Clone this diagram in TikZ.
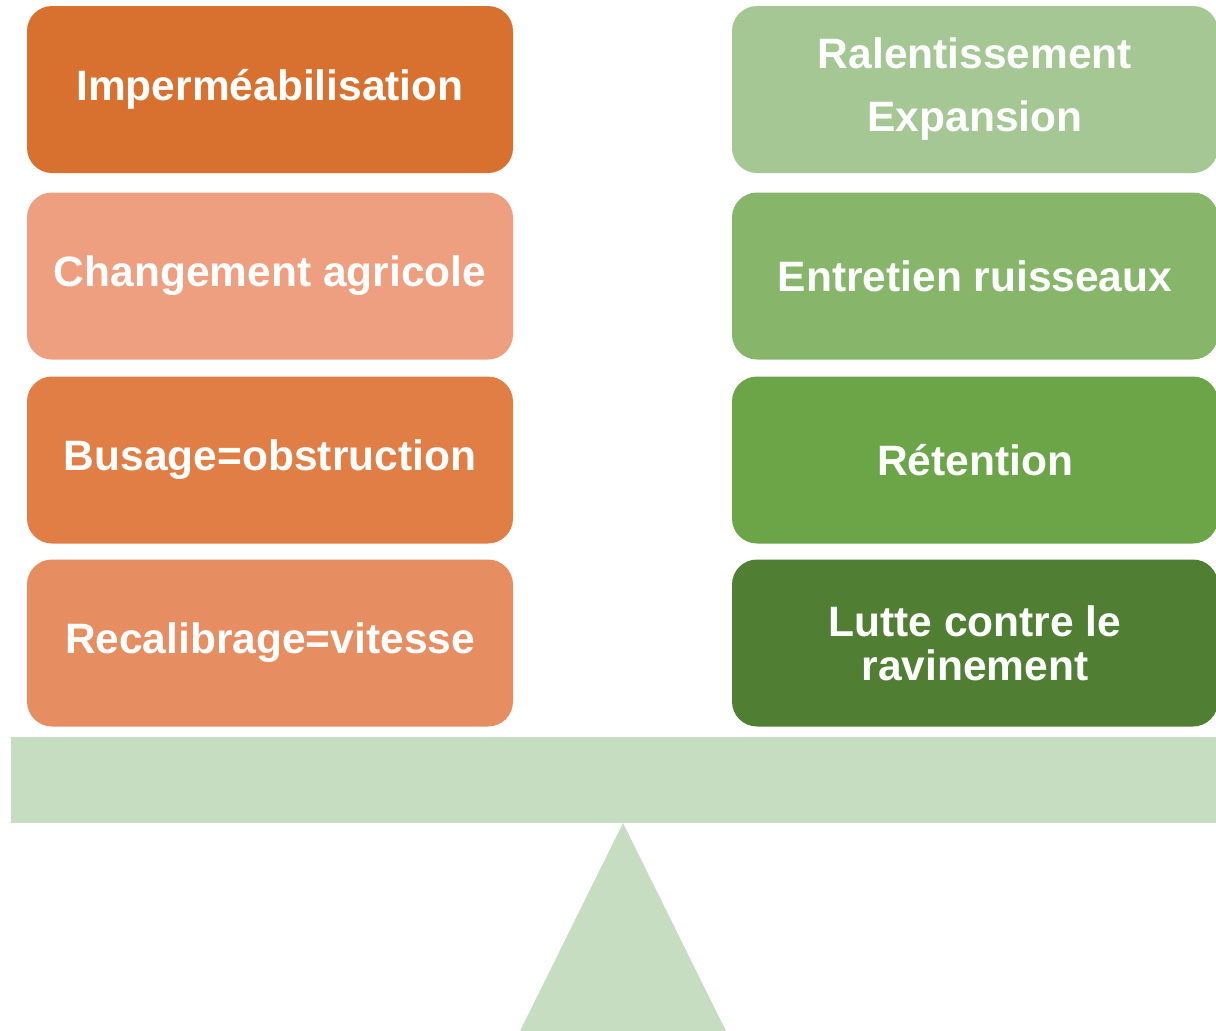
\documentclass[tikz,border=0pt]{standalone}
\usepackage{fontspec}
\setmainfont{Liberation Sans}
\usepackage{xcolor}
\definecolor{orangeA}{HTML}{D87130}
\definecolor{orangeB}{HTML}{EE9F7F}
\definecolor{orangeC}{HTML}{E07E46}
\definecolor{orangeD}{HTML}{E78D62}
\definecolor{greenA}{HTML}{A5C794}
\definecolor{greenB}{HTML}{87B66B}
\definecolor{greenC}{HTML}{6CA448}
\definecolor{greenD}{HTML}{507F34}
\definecolor{balance}{HTML}{C7DDC1}
\tikzset{
    box/.style={rounded corners=25pt, minimum width=486pt, minimum height=167pt,
        inner sep=0pt, text=white, align=center,
        font=\bfseries\fontsize{42.5}{44}\selectfont},
}

\begin{document}
\begin{tikzpicture}[x=1pt, y=-1pt]
        \useasboundingbox (0,0) rectangle (1216,1031);
        % balance
        \fill [balance] (11,737) rectangle (1216,823);
        \fill [balance] (623,823) -- (726,1031) -- (520,1031) -- cycle;

        % causes
        \node[box, fill=orangeA] (imper) at (270,89.5) {Imperméabilisation};
        \node[box, fill=orangeB] (agri) at (270,276) {Changement agricole};
        \node[box, fill=orangeC] (busage) at (270,460) {Busage=obstruction};
        \node[box, fill=orangeD] (recal) at (270,643) {Recalibrage=vitesse};

        % remedies
        \node[box, fill=greenA, font=\bfseries\fontsize{42.5}{63}\selectfont] (ralent) at (975,89.5) {Ralentissement\\Expansion};
        \node[box, fill=greenB] (entret) at (975,276) {Entretien ruisseaux};
        \node[box, fill=greenC] (reten) at (975,460) {Rétention};
        \node[box, fill=greenD] (lutte) at (975,643) {Lutte contre le\\ravinement};
    \end{tikzpicture}
\end{document}
